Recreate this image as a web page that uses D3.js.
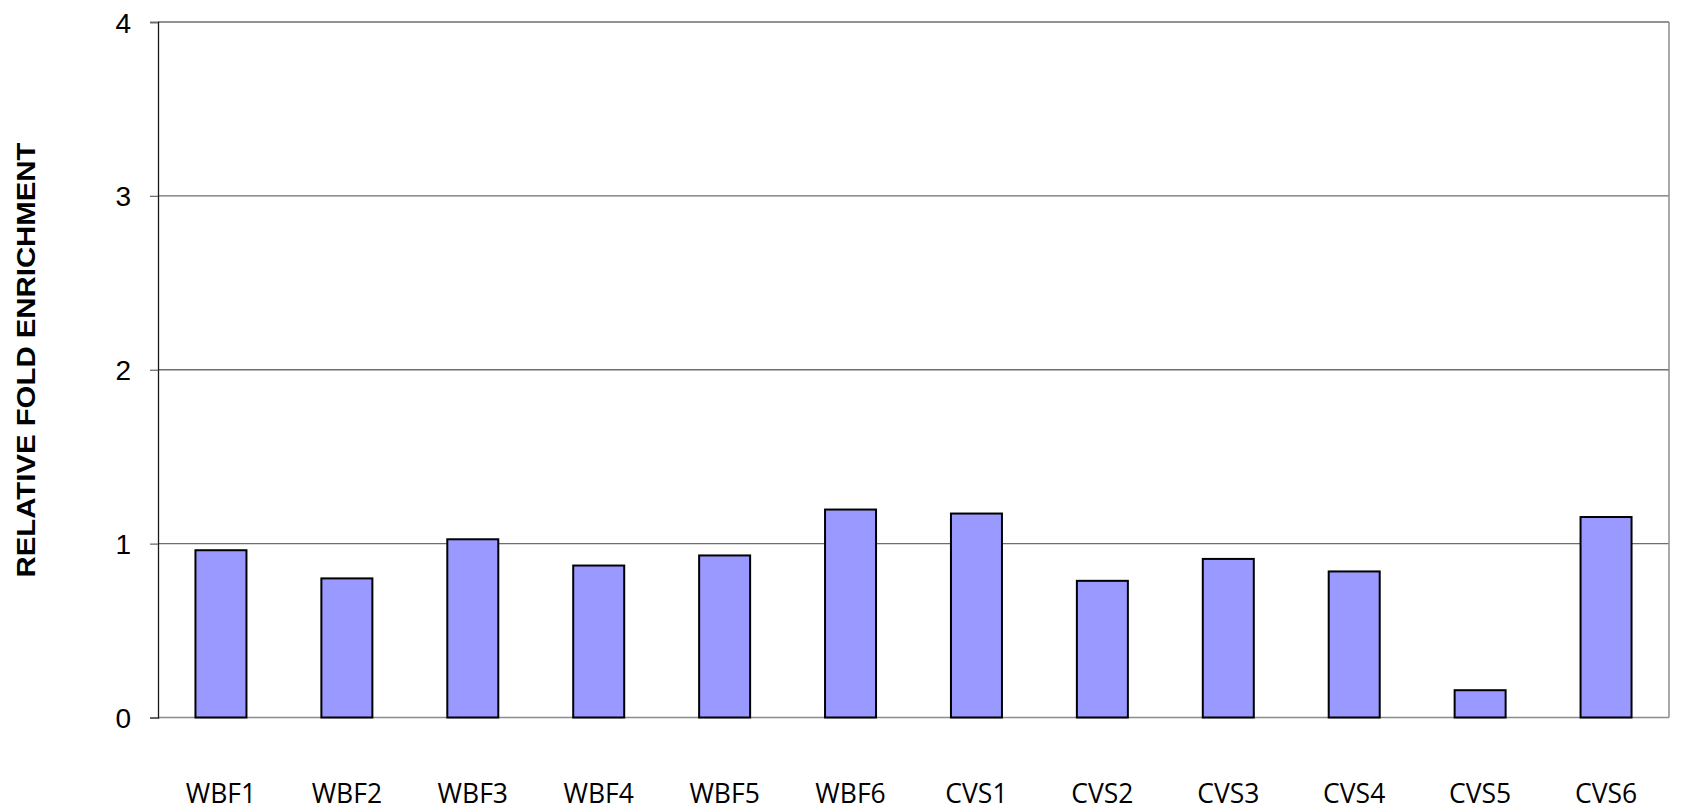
<!DOCTYPE html>
<html>
<head>
<meta charset="utf-8">
<script src="https://cdn.jsdelivr.net/npm/d3@7"></script>
<style>
  body { margin: 0; background: #fff; }
</style>
</head>
<body>
<div id="chart"></div>
<script>
// data
var categories = ["WBF1", "WBF2", "WBF3", "WBF4", "WBF5", "WBF6",
                  "CVS1", "CVS2", "CVS3", "CVS4", "CVS5", "CVS6"];
var values = [0.962, 0.80, 1.025, 0.874, 0.932, 1.196,
              1.173, 0.786, 0.912, 0.84, 0.157, 1.153];
var yTicks = [0, 1, 2, 3, 4];
var yTitle = "RELATIVE FOLD ENRICHMENT";

var width = 1681, height = 812;
var margin = {top: 22, right: 12, bottom: 94.5, left: 158};

var svg = d3.select("#chart").append("svg")
    .attr("width", width)
    .attr("height", height);

var x = d3.scaleBand()
    .domain(categories)
    .range([margin.left, width - margin.right])
    .paddingInner(0.595)
    .paddingOuter(0.2975);

var y = d3.scaleLinear()
    .domain([0, 4])
    .range([height - margin.bottom, margin.top]);

// gridlines
svg.append("g")
    .selectAll("line")
    .data(yTicks)
    .enter()
    .append("line")
    .attr("x1", margin.left)
    .attr("x2", width - margin.right)
    .attr("y1", function (d) { return y(d); })
    .attr("y2", function (d) { return y(d); })
    .attr("stroke", function (d) { return d == 0 ? "#8c8c8c" : "#6e6e6e"; })
    .attr("stroke-width", 1.3);

// right border
svg.append("line")
    .attr("x1", width - margin.right)
    .attr("x2", width - margin.right)
    .attr("y1", y(4))
    .attr("y2", y(0))
    .attr("stroke", "#8c8c8c")
    .attr("stroke-width", 1.5);

// y axis
var yAxis = d3.axisLeft(y)
    .tickValues(yTicks)
    .tickSize(8)
    .tickPadding(19)
    .tickFormat(d3.format("d"));

var gy = svg.append("g")
    .attr("transform", "translate(" + margin.left + ",0)")
    .call(yAxis);

gy.select(".domain").attr("stroke", "#1a1a1a").attr("stroke-width", 1.3);
gy.selectAll(".tick line").attr("stroke", "#6e6e6e").attr("stroke-width", 1.3);
gy.selectAll(".tick text")
    .attr("font-family", "Liberation Sans, Arial, sans-serif")
    .attr("font-size", "28px")
    .attr("fill", "#000")
    .attr("dy", "0.36em");

// bars
svg.append("g")
    .selectAll("rect")
    .data(values)
    .enter()
    .append("rect")
    .attr("x", function (d, i) { return x(categories[i]); })
    .attr("y", function (d) { return y(d); })
    .attr("width", x.bandwidth())
    .attr("height", function (d) { return y(0) - y(d); })
    .attr("fill", "#9999ff")
    .attr("stroke", "#000")
    .attr("stroke-width", 2);

// x labels
svg.append("g")
    .selectAll("text")
    .data(categories)
    .enter()
    .append("text")
    .attr("x", function (d) { return x(d) + x.bandwidth() / 2; })
    .attr("y", 802.5)
    .attr("text-anchor", "middle")
    .attr("font-family", "Open Sans, sans-serif")
    .attr("font-size", "26.5px")
    .attr("fill", "#000")
    .text(function (d) { return d; });

// y title (stretched a little, like the reference)
svg.append("text")
    .attr("transform", "translate(35,360) rotate(-90)")
    .attr("text-anchor", "middle")
    .attr("font-family", "Liberation Sans, Arial, sans-serif")
    .attr("font-weight", "bold")
    .attr("font-size", "25.5px")
    .attr("fill", "#000")
    .attr("textLength", 435)
    .attr("lengthAdjust", "spacingAndGlyphs")
    .text(yTitle);
</script>
</body>
</html>
